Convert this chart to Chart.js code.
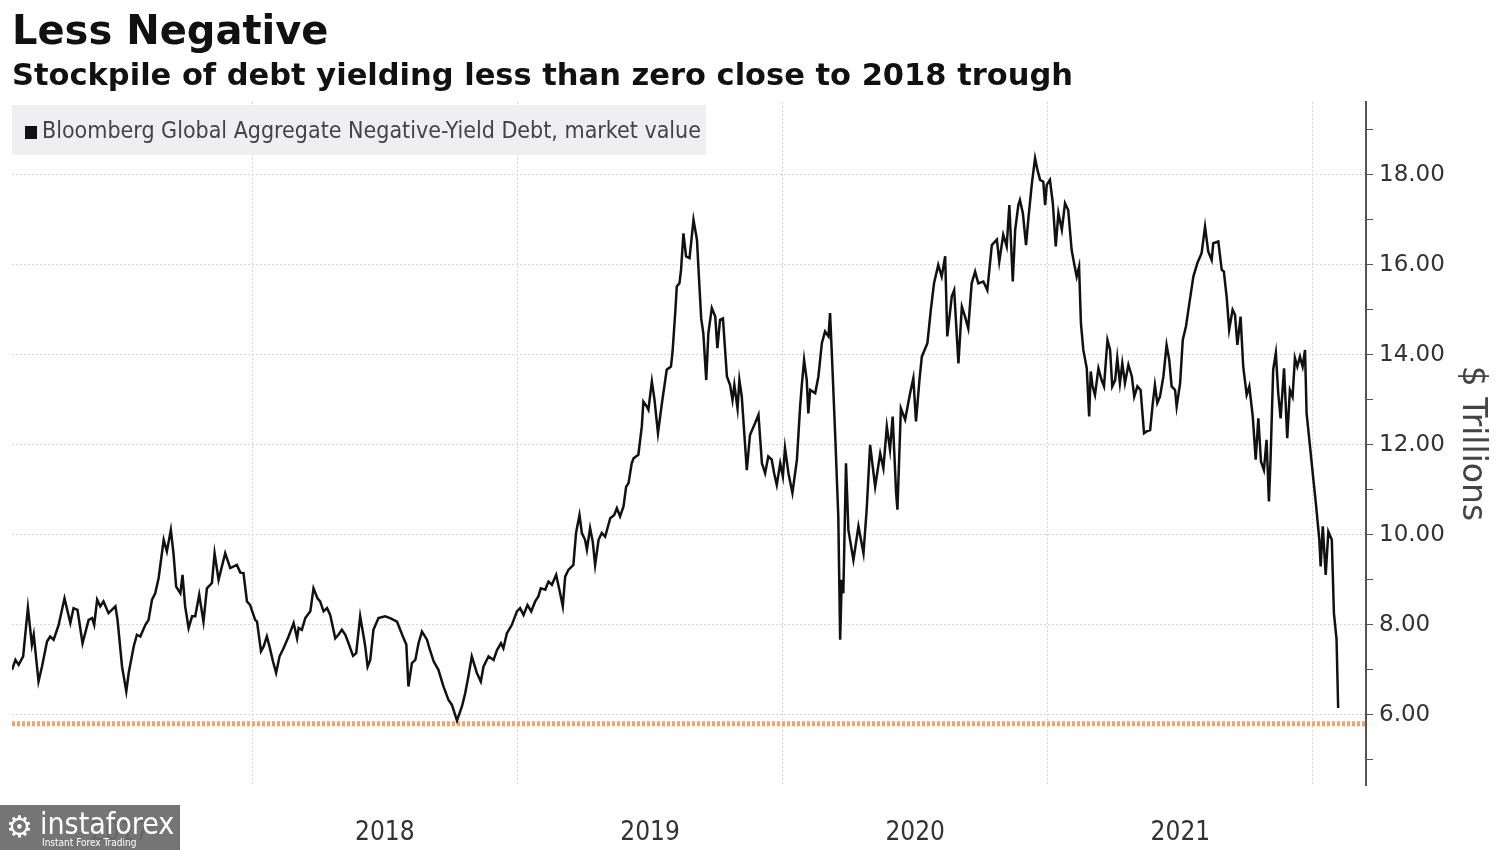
<!DOCTYPE html>
<html>
<head>
<meta charset="utf-8">
<script src="https://cdn.jsdelivr.net/npm/chart.js@4.4.1/dist/chart.umd.min.js"></script>
<style>
  body { margin: 0; background: #fff; }
  #wrap { position: relative; width: 1500px; height: 850px; overflow: hidden; }
  #chart { position: absolute; left: 0; top: 0; }
  .title { position: absolute; left: 12px; top: 6px; font: bold 40px 'DejaVu Sans'; line-height: 48px; color: #111; white-space: nowrap; }
  .subtitle { position: absolute; left: 12px; top: 57px; font: bold 30.5px 'DejaVu Sans'; line-height: 36px; color: #111; white-space: nowrap; }
  .legend { position: absolute; left: 12px; top: 105px; width: 694px; height: 50px; background: rgba(236,236,238,0.85);
            font: 23px 'DejaVu Sans Condensed', 'DejaVu Sans'; font-stretch: condensed; color: #444; line-height: 50px; white-space: nowrap; }
  .legend .sw { display: inline-block; width: 12px; height: 13px; background: #111; margin: 0 5px 0 13px; vertical-align: -1px; }
  .wm { position: absolute; left: 0; top: 805px; width: 180px; height: 45px; background: rgba(105,105,105,0.92); color: #fff; overflow: hidden; }
  .wm .big { position: absolute; left: 40px; top: 3px; font: 30px 'DejaVu Sans Condensed', 'DejaVu Sans'; font-stretch: condensed; line-height: 32px; }
  .wm .small { position: absolute; left: 42px; top: 32px; font: 10px 'DejaVu Sans Condensed', 'DejaVu Sans'; line-height: 12px; }
  .wm .gear { position: absolute; left: 6px; top: 4px; font: 30px 'DejaVu Sans'; line-height: 36px; }
</style>
</head>
<body>
<div id="wrap">
  <canvas id="chart" width="1500" height="850"></canvas>
  <div class="title">Less Negative</div>
  <div class="subtitle">Stockpile of debt yielding less than zero close to 2018 trough</div>
  <div class="legend"><span class="sw"></span>Bloomberg Global Aggregate Negative-Yield Debt, market value</div>
  <div class="wm"><span class="gear">⚙</span><span class="big">instaforex</span><span class="small">Instant Forex Trading</span></div>
</div>
<script>
// time as decimal years, values in $ trillions
let dates = [
  2017.094, 2017.107, 2017.119, 2017.136, 2017.154, 2017.169, 2017.176, 2017.194, 2017.207, 2017.226,
  2017.238, 2017.251, 2017.270, 2017.292, 2017.314, 2017.326, 2017.341, 2017.360, 2017.383, 2017.396,
  2017.404, 2017.415, 2017.427, 2017.439, 2017.458, 2017.484, 2017.492, 2017.509, 2017.525, 2017.534,
  2017.553, 2017.565, 2017.578, 2017.597, 2017.609, 2017.622, 2017.634, 2017.647, 2017.666, 2017.678,
  2017.693, 2017.703, 2017.713, 2017.729, 2017.737, 2017.747, 2017.760, 2017.773, 2017.785, 2017.800,
  2017.816, 2017.829, 2017.848, 2017.858, 2017.873, 2017.898, 2017.917, 2017.942, 2017.955, 2017.967,
  2017.980, 2017.992, 2018.011, 2018.018, 2018.033, 2018.043, 2018.055, 2018.065, 2018.078, 2018.090,
  2018.103, 2018.118, 2018.137, 2018.156, 2018.169, 2018.175, 2018.187, 2018.200, 2018.219, 2018.231,
  2018.246, 2018.256, 2018.269, 2018.282, 2018.294, 2018.313, 2018.325, 2018.338, 2018.351, 2018.363,
  2018.380, 2018.392, 2018.407, 2018.420, 2018.426, 2018.435, 2018.445, 2018.457, 2018.476, 2018.501,
  2018.520, 2018.546, 2018.558, 2018.568, 2018.581, 2018.589, 2018.602, 2018.615, 2018.627, 2018.640,
  2018.659, 2018.668, 2018.684, 2018.702, 2018.721, 2018.740, 2018.753, 2018.772, 2018.791, 2018.803,
  2018.815, 2018.828, 2018.847, 2018.862, 2018.872, 2018.891, 2018.910, 2018.923, 2018.938, 2018.947,
  2018.960, 2018.979, 2018.998, 2019.010, 2019.023, 2019.038, 2019.052, 2019.067, 2019.079, 2019.088,
  2019.105, 2019.117, 2019.130, 2019.146, 2019.161, 2019.171, 2019.180, 2019.192, 2019.211, 2019.221,
  2019.234, 2019.243, 2019.255, 2019.262, 2019.274, 2019.284, 2019.293, 2019.306, 2019.318, 2019.331,
  2019.350, 2019.365, 2019.375, 2019.387, 2019.400, 2019.410, 2019.419, 2019.431, 2019.438, 2019.456,
  2019.469, 2019.475, 2019.488, 2019.494, 2019.507, 2019.517, 2019.530, 2019.545, 2019.563, 2019.579,
  2019.585, 2019.595, 2019.601, 2019.611, 2019.617, 2019.626, 2019.636, 2019.649, 2019.664, 2019.677,
  2019.685, 2019.693, 2019.701, 2019.712, 2019.720, 2019.733, 2019.746, 2019.754, 2019.764, 2019.775,
  2019.790, 2019.802, 2019.811, 2019.818, 2019.830, 2019.837, 2019.846, 2019.865, 2019.877, 2019.896,
  2019.909, 2019.922, 2019.934, 2019.946, 2019.959, 2019.968, 2019.978, 2019.991, 2020.001, 2020.009,
  2020.022, 2020.037, 2020.054, 2020.066, 2020.072, 2020.081, 2020.091, 2020.097, 2020.104, 2020.123,
  2020.135, 2020.148, 2020.160, 2020.173, 2020.179, 2020.188, 2020.198, 2020.210, 2020.217, 2020.223,
  2020.229, 2020.239, 2020.248, 2020.267, 2020.286, 2020.305, 2020.317, 2020.330, 2020.349, 2020.368,
  2020.380, 2020.393, 2020.405, 2020.415, 2020.428, 2020.433, 2020.446, 2020.462, 2020.481, 2020.493,
  2020.503, 2020.516, 2020.525, 2020.546, 2020.559, 2020.571, 2020.587, 2020.600, 2020.613, 2020.621,
  2020.638, 2020.647, 2020.663, 2020.676, 2020.688, 2020.700, 2020.713, 2020.726, 2020.738, 2020.757,
  2020.772, 2020.789, 2020.808, 2020.817, 2020.832, 2020.845, 2020.855, 2020.868, 2020.877, 2020.889,
  2020.895, 2020.906, 2020.918, 2020.927, 2020.940, 2020.952, 2020.961, 2020.971, 2020.983, 2020.990,
  2020.996, 2021.008, 2021.019, 2021.030, 2021.040, 2021.053, 2021.065, 2021.077, 2021.090, 2021.099,
  2021.109, 2021.118, 2021.125, 2021.134, 2021.147, 2021.156, 2021.162, 2021.169, 2021.178, 2021.191,
  2021.203, 2021.212, 2021.225, 2021.235, 2021.243, 2021.254, 2021.262, 2021.272, 2021.281, 2021.291,
  2021.304, 2021.317, 2021.326, 2021.338, 2021.350, 2021.363, 2021.373, 2021.386, 2021.396, 2021.404,
  2021.413, 2021.423, 2021.436, 2021.448, 2021.458, 2021.467, 2021.480, 2021.486, 2021.499, 2021.509,
  2021.521, 2021.534, 2021.549, 2021.564, 2021.580, 2021.593, 2021.605, 2021.618, 2021.624, 2021.643,
  2021.656, 2021.664, 2021.675, 2021.684, 2021.697, 2021.706, 2021.715, 2021.727, 2021.737, 2021.750,
  2021.760, 2021.773, 2021.784, 2021.794, 2021.804, 2021.815, 2021.825, 2021.834, 2021.840, 2021.850,
  2021.860, 2021.869, 2021.878, 2021.891, 2021.903, 2021.913, 2021.923, 2021.932, 2021.941, 2021.951,
  2021.961, 2021.970, 2021.976, 2021.989, 2022.001, 2022.011, 2022.024, 2022.029, 2022.037, 2022.048,
  2022.058, 2022.071, 2022.079, 2022.089, 2022.095
];
let debtTrillions = [
  7.00, 7.22, 7.11, 7.30, 8.38, 7.56, 7.78, 6.74, 7.07, 7.63,
  7.74, 7.67, 8.00, 8.59, 8.04, 8.37, 8.33, 7.59, 8.11, 8.15,
  8.00, 8.56, 8.41, 8.52, 8.26, 8.41, 8.11, 7.07, 6.52, 6.93,
  7.52, 7.78, 7.74, 8.00, 8.11, 8.56, 8.70, 9.04, 9.89, 9.63,
  10.11, 9.59, 8.85, 8.70, 9.11, 8.41, 7.93, 8.19, 8.19, 8.67,
  8.07, 8.81, 8.93, 9.59, 9.00, 9.59, 9.26, 9.33, 9.16, 9.15,
  8.52, 8.44, 8.11, 8.07, 7.41, 7.52, 7.74, 7.52, 7.19, 6.93,
  7.30, 7.48, 7.74, 8.04, 7.70, 7.93, 7.89, 8.15, 8.30, 8.81,
  8.59, 8.52, 8.30, 8.37, 8.22, 7.70, 7.78, 7.89, 7.78, 7.59,
  7.31, 7.37, 8.19, 7.74, 7.52, 7.07, 7.22, 7.89, 8.15, 8.19,
  8.15, 8.07, 7.89, 7.74, 7.56, 6.63, 7.15, 7.22, 7.59, 7.85,
  7.67, 7.48, 7.19, 7.00, 6.63, 6.33, 6.22, 5.87, 6.19, 6.48,
  6.85, 7.30, 6.93, 6.74, 7.07, 7.30, 7.22, 7.44, 7.59, 7.48,
  7.81, 8.00, 8.30, 8.37, 8.22, 8.44, 8.30, 8.52, 8.63, 8.81,
  8.78, 8.96, 8.89, 9.11, 8.70, 8.41, 9.07, 9.22, 9.33, 10.04,
  10.44, 10.04, 9.89, 9.67, 10.15, 9.85, 9.33, 9.89, 10.04, 9.96,
  10.37, 10.44, 10.59, 10.41, 10.63, 11.07, 11.15, 11.59, 11.70, 11.78,
  12.41, 12.96, 12.85, 12.78, 13.41, 13.00, 12.26, 12.93, 13.67, 13.74,
  14.07, 14.93, 15.52, 15.59, 15.89, 16.70, 16.19, 16.15, 17.00, 16.56,
  15.67, 14.81, 14.48, 13.44, 14.48, 15.04, 14.85, 14.15, 14.78, 14.81,
  13.52, 13.33, 13.00, 13.33, 12.81, 13.44, 13.07, 11.44, 12.22, 12.48,
  12.67, 11.59, 11.37, 11.74, 11.67, 11.37, 11.11, 11.59, 11.30, 11.93,
  11.37, 10.93, 11.67, 12.85, 13.30, 13.89, 13.44, 12.70, 13.22, 13.15,
  13.52, 14.26, 14.52, 14.41, 14.93, 13.70, 12.26, 10.41, 7.67, 9.00,
  8.70, 11.59, 10.11, 9.44, 10.19, 9.59, 10.56, 12.00, 11.07, 11.81,
  11.48, 12.41, 11.89, 12.63, 10.93, 10.56, 12.81, 12.56, 13.15, 13.48,
  12.52, 13.44, 13.96, 14.26, 15.00, 15.59, 16.00, 15.74, 16.19, 14.41,
  15.30, 15.44, 13.81, 15.07, 14.85, 14.59, 15.59, 15.85, 15.59, 15.63,
  15.44, 16.44, 16.56, 16.07, 16.67, 16.41, 17.33, 15.63, 16.78, 17.33,
  17.44, 17.15, 16.44, 17.04, 17.81, 18.37, 18.11, 17.89, 17.85, 17.33,
  17.78, 17.89, 17.37, 16.41, 17.15, 16.78, 17.37, 17.22, 16.33, 16.04,
  15.74, 15.96, 14.70, 14.11, 13.70, 12.63, 13.63, 13.30, 13.11, 13.70,
  13.44, 13.30, 14.33, 14.11, 13.30, 13.44, 13.93, 13.37, 13.81, 13.37,
  13.78, 13.52, 13.07, 13.30, 13.22, 12.26, 12.30, 12.33, 12.93, 13.33,
  12.93, 13.07, 13.52, 14.22, 13.89, 13.30, 13.22, 12.85, 13.37, 14.33,
  14.63, 15.15, 15.74, 16.04, 16.26, 16.85, 16.30, 16.11, 16.48, 16.52,
  15.89, 15.85, 15.26, 14.56, 15.00, 14.89, 14.22, 14.85, 13.74, 13.11,
  13.30, 12.63, 11.67, 12.59, 11.63, 11.44, 12.11, 10.74, 11.67, 13.67,
  14.04, 13.15, 12.59, 13.70, 12.15, 13.22, 13.07, 13.93, 13.74, 13.96,
  13.74, 14.11, 12.70, 11.96, 11.26, 10.70, 9.89, 9.30, 10.19, 9.11,
  10.07, 9.89, 8.26, 7.67, 6.15
];
let yearLabels = [2017, 2018, 2019, 2020, 2021];
let yearLines = [2018, 2019, 2020, 2021, 2022];
let valueTicks = [6, 8, 10, 12, 14, 16, 18];
let troughLevel = 5.8;

let xMin = 2017.094, xMax = 2022.2;
let yMin = 4.44, yMax = 19.62;

let condensed = "'DejaVu Sans Condensed', 'DejaVu Sans'";

new Chart(document.getElementById('chart'), {
  type: 'line',
  data: {
    datasets: [{
      label: 'Bloomberg Global Aggregate Negative-Yield Debt, market value',
      data: dates.map((d, i) => ({x: d, y: debtTrillions[i]})),
      borderColor: '#111',
      borderWidth: 2.5,
      pointRadius: 0,
      tension: 0,
      order: 1
    }, {
      label: '2018 trough',
      data: [{x: xMin, y: troughLevel}, {x: xMax, y: troughLevel}],
      borderColor: '#f4a267',
      borderWidth: 5,
      borderDash: [3, 2],
      pointRadius: 0,
      order: 2
    }]
  },
  options: {
    responsive: false,
    animation: false,
    layout: {padding: {left: 12, top: 102, right: 0, bottom: 0}},
    plugins: {legend: {display: false}, tooltip: {enabled: false}},
    scales: {
      x: {
        type: 'linear', min: xMin, max: xMax, position: 'bottom',
        afterBuildTicks: s => { s.ticks = yearLines.map(v => ({value: v})); },
        ticks: {display: false},
        grid: {color: '#d6d6d6', lineWidth: 1, drawTicks: false},
        border: {display: false, dash: [2, 2]},
        afterFit: s => { s.height = 0; }
      },
      years: {
        type: 'linear', min: xMin, max: xMax, position: 'bottom',
        afterBuildTicks: s => { s.ticks = yearLabels.map(v => ({value: v + 0.5})); },
        ticks: {
          autoSkip: false, maxRotation: 0, padding: 33, color: '#333',
          font: {family: condensed, size: 26},
          callback: v => String(Math.floor(v))
        },
        grid: {display: false, drawTicks: false},
        border: {display: false},
        afterFit: s => { s.height = 65; }
      },
      y: {
        position: 'right', min: yMin, max: yMax,
        afterBuildTicks: s => {
          let t = [];
          for (let v = 5; v <= 19; v++) t.push({value: v});
          s.ticks = t;
        },
        ticks: {
          padding: 6, color: '#333',
          font: {family: 'DejaVu Sans', size: 23},
          callback: v => valueTicks.includes(v) ? v.toFixed(2) : ''
        },
        grid: {
          color: c => valueTicks.includes(c.tick.value) ? '#d6d6d6' : 'rgba(0,0,0,0)',
          tickColor: '#555', tickLength: 7, lineWidth: 1
        },
        border: {display: true, color: '#555', width: 2, dash: [2, 2]},
        title: {
          display: true, text: '$ Trillions', color: '#444',
          font: {family: 'DejaVu Sans', size: 33},
          padding: {top: 9, bottom: 0}
        },
        afterFit: s => { s.width = 134; }
      }
    }
  }
});
</script>
</body>
</html>
